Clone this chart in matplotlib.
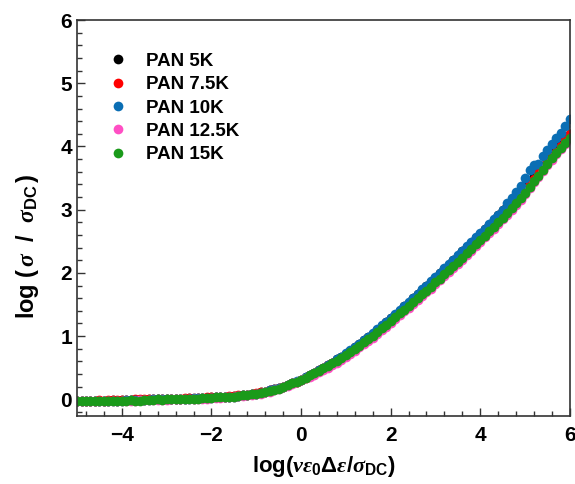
import matplotlib
matplotlib.use("Agg")
import matplotlib.pyplot as plt
from matplotlib.ticker import MultipleLocator

plt.rcParams['font.family'] = ['Liberation Sans', 'DejaVu Sans']
plt.rcParams['font.weight'] = 'bold'
plt.rcParams['mathtext.fontset'] = 'custom'
plt.rcParams['mathtext.rm'] = 'Liberation Sans:bold'
plt.rcParams['mathtext.bf'] = 'Liberation Sans:bold'
plt.rcParams['mathtext.it'] = 'Liberation Serif:italic'
plt.rcParams['mathtext.default'] = 'it'

x = [-5.0, -4.9, -4.8, -4.7, -4.6, -4.5, -4.4, -4.3, -4.2, -4.1,
     -4.0, -3.9, -3.8, -3.7, -3.6, -3.5, -3.4, -3.3, -3.2, -3.1,
     -3.0, -2.9, -2.8, -2.7, -2.6, -2.5, -2.4, -2.3, -2.2, -2.1,
     -2.0, -1.9, -1.8, -1.7, -1.6, -1.5, -1.4, -1.3, -1.2, -1.1,
     -1.0, -0.9, -0.8, -0.7, -0.6, -0.5, -0.4, -0.3, -0.2, -0.1,
     0.0, 0.1, 0.2, 0.3, 0.4, 0.5, 0.6, 0.7, 0.8, 0.9,
     1.0, 1.1, 1.2, 1.3, 1.4, 1.5, 1.6, 1.7, 1.8, 1.9,
     2.0, 2.1, 2.2, 2.3, 2.4, 2.5, 2.6, 2.7, 2.8, 2.9,
     3.0, 3.1, 3.2, 3.3, 3.4, 3.5, 3.6, 3.7, 3.8, 3.9,
     4.0, 4.1, 4.2, 4.3, 4.4, 4.5, 4.6, 4.7, 4.8, 4.9,
     5.0, 5.1, 5.2, 5.3, 5.4, 5.5, 5.6, 5.7, 5.8, 5.9, 6.0]

y_5k = [-0.02, -0.02, -0.03, -0.02, -0.02, -0.02, -0.02, -0.02, -0.01, -0.02,
        -0.01, -0.01, -0.01, -0.01, -0.01, -0.01, 0.00, 0.00, 0.00, 0.00,
        0.00, 0.01, 0.01, 0.01, 0.01, 0.02, 0.01, 0.02, 0.02, 0.02,
        0.03, 0.03, 0.03, 0.04, 0.04, 0.05, 0.05, 0.06, 0.07, 0.08,
        0.09, 0.11, 0.12, 0.14, 0.16, 0.18, 0.20, 0.23, 0.25, 0.28,
        0.31, 0.35, 0.39, 0.42, 0.46, 0.50, 0.54, 0.58, 0.63, 0.67,
        0.72, 0.77, 0.82, 0.87, 0.93, 0.98, 1.04, 1.10, 1.16, 1.22,
        1.28, 1.34, 1.40, 1.47, 1.53, 1.60, 1.66, 1.73, 1.79, 1.86,
        1.92, 1.99, 2.06, 2.13, 2.20, 2.27, 2.34, 2.41, 2.48, 2.55,
        2.62, 2.69, 2.76, 2.84, 2.91, 2.99, 3.06, 3.14, 3.21, 3.29,
        3.37, 3.45, 3.53, 3.61, 3.69, 3.78, 3.86, 3.95, 4.03, 4.12, 4.20]
y_75k = [-0.02, -0.02, -0.02, -0.02, -0.02, -0.01, -0.02, -0.01, -0.01, -0.01,
         -0.01, -0.01, -0.01, 0.00, 0.00, 0.00, 0.00, 0.00, 0.01, 0.00,
         0.01, 0.01, 0.01, 0.01, 0.02, 0.02, 0.02, 0.02, 0.02, 0.03,
         0.03, 0.03, 0.04, 0.04, 0.05, 0.05, 0.06, 0.06, 0.07, 0.09,
         0.10, 0.11, 0.12, 0.14, 0.16, 0.18, 0.20, 0.23, 0.26, 0.28,
         0.31, 0.34, 0.38, 0.42, 0.46, 0.50, 0.54, 0.58, 0.62, 0.66,
         0.71, 0.76, 0.81, 0.86, 0.92, 0.97, 1.03, 1.08, 1.14, 1.20,
         1.26, 1.32, 1.38, 1.45, 1.51, 1.57, 1.63, 1.70, 1.76, 1.83,
         1.89, 1.96, 2.02, 2.09, 2.16, 2.23, 2.30, 2.37, 2.44, 2.51,
         2.58, 2.65, 2.72, 2.80, 2.87, 2.95, 3.02, 3.10, 3.17, 3.25,
         3.33, 3.41, 3.49, 3.58, 3.66, 3.75, 3.83, 3.92, 4.01, 4.11, 4.20]
y_10k = [-0.02, -0.03, -0.02, -0.02, -0.03, -0.02, -0.02, -0.02, -0.02, -0.02,
         -0.02, -0.01, -0.01, -0.01, -0.01, -0.01, -0.01, 0.00, 0.00, 0.00,
         0.00, 0.01, 0.01, 0.01, 0.01, 0.01, 0.02, 0.02, 0.02, 0.02,
         0.02, 0.03, 0.03, 0.03, 0.04, 0.04, 0.05, 0.06, 0.07, 0.08,
         0.09, 0.10, 0.12, 0.14, 0.16, 0.18, 0.20, 0.23, 0.26, 0.29,
         0.31, 0.35, 0.39, 0.42, 0.46, 0.50, 0.54, 0.58, 0.63, 0.67,
         0.73, 0.78, 0.83, 0.88, 0.94, 0.99, 1.05, 1.11, 1.17, 1.23,
         1.29, 1.35, 1.41, 1.48, 1.54, 1.61, 1.67, 1.74, 1.80, 1.87,
         1.93, 2.00, 2.07, 2.14, 2.21, 2.28, 2.35, 2.42, 2.49, 2.56,
         2.63, 2.70, 2.77, 2.85, 2.92, 3.00, 3.10, 3.19, 3.28, 3.38,
         3.50, 3.62, 3.70, 3.72, 3.85, 3.95, 4.04, 4.13, 4.22, 4.32, 4.44]
y_125k = [-0.03, -0.03, -0.03, -0.03, -0.03, -0.03, -0.02, -0.03, -0.02, -0.02,
          -0.02, -0.02, -0.02, -0.02, -0.01, -0.01, -0.01, -0.01, -0.01, -0.01,
          -0.01, 0.00, 0.00, 0.00, 0.00, 0.00, 0.01, 0.01, 0.01, 0.01,
          0.02, 0.02, 0.02, 0.03, 0.03, 0.04, 0.05, 0.05, 0.06, 0.07,
          0.08, 0.09, 0.11, 0.12, 0.14, 0.16, 0.19, 0.21, 0.24, 0.27,
          0.30, 0.33, 0.36, 0.39, 0.43, 0.46, 0.50, 0.54, 0.58, 0.62,
          0.67, 0.72, 0.77, 0.82, 0.87, 0.92, 0.97, 1.03, 1.09, 1.15,
          1.21, 1.27, 1.33, 1.39, 1.45, 1.51, 1.57, 1.63, 1.69, 1.75,
          1.82, 1.88, 1.95, 2.01, 2.08, 2.14, 2.21, 2.28, 2.35, 2.42,
          2.49, 2.56, 2.63, 2.70, 2.77, 2.85, 2.92, 3.00, 3.08, 3.16,
          3.25, 3.34, 3.43, 3.52, 3.61, 3.70, 3.79, 3.88, 3.96, 4.04, 4.12]
y_15k = [-0.03, -0.03, -0.03, -0.02, -0.02, -0.03, -0.03, -0.02, -0.02, -0.02,
         -0.02, -0.03, -0.01, -0.02, -0.02, -0.01, -0.01, -0.01, 0.00, -0.01,
         0.00, 0.00, 0.00, 0.01, 0.01, 0.01, 0.01, 0.01, 0.02, 0.02,
         0.02, 0.03, 0.03, 0.03, 0.04, 0.04, 0.05, 0.06, 0.07, 0.08,
         0.09, 0.10, 0.12, 0.13, 0.15, 0.17, 0.20, 0.22, 0.25, 0.28,
         0.31, 0.34, 0.38, 0.41, 0.45, 0.49, 0.53, 0.57, 0.61, 0.65,
         0.70, 0.75, 0.80, 0.85, 0.90, 0.95, 1.00, 1.06, 1.12, 1.18,
         1.24, 1.30, 1.36, 1.42, 1.48, 1.54, 1.60, 1.66, 1.72, 1.78,
         1.85, 1.91, 1.98, 2.04, 2.11, 2.17, 2.24, 2.31, 2.38, 2.45,
         2.52, 2.59, 2.66, 2.73, 2.80, 2.87, 2.95, 3.02, 3.10, 3.18,
         3.27, 3.36, 3.45, 3.54, 3.63, 3.72, 3.81, 3.90, 3.98, 4.06, 4.14]

labels = ['PAN 5K', 'PAN 7.5K', 'PAN 10K', 'PAN 12.5K', 'PAN 15K']
colors = ['#000000', '#ff0000', '#0a6eb4', '#ff4fc4', '#1a9a1a']
series = [y_5k, y_75k, y_10k, y_125k, y_15k]

fig = plt.figure(figsize=(5.75, 4.84), dpi=100)
ax = fig.add_axes([0.134, 0.1405, 0.857, 0.818])

for ys, c, lab in zip(series, colors, labels):
    ax.plot(x, ys, 'o', color=c, markersize=7.0, markeredgewidth=0, label=lab, clip_on=True)

ax.set_xlim(-5, 6)
ax.set_ylim(-0.265, 6)
ax.xaxis.set_major_locator(MultipleLocator(2))
ax.xaxis.set_minor_locator(MultipleLocator(0.4))
ax.yaxis.set_major_locator(MultipleLocator(1))
ax.yaxis.set_minor_locator(MultipleLocator(0.2))
ax.tick_params(which='both', direction='in', top=False, right=False, labelsize=15, width=1.0, color='#333333')
ax.tick_params(which='major', length=6)
ax.tick_params(which='minor', length=3.5)
for lbl in ax.get_xticklabels() + ax.get_yticklabels():
    lbl.set_fontweight('bold')
ax.tick_params(axis='x', pad=7)
for s in ax.spines.values():
    s.set_linewidth(1.2)
    s.set_color('#333333')

ax.set_xlabel(r'log($\nu\varepsilon_{\mathbf{0}}\mathit{\Delta}\varepsilon/\sigma_{\mathbf{DC}}$)', fontsize=16, fontweight='bold', labelpad=7)
ax.set_ylabel(r'log $(\,\sigma\ \ /\ \ \sigma_{\mathbf{DC}}\,)$', fontsize=17, fontweight='bold')
ax.yaxis.set_label_coords(-0.073, 0.43)

leg = ax.legend(loc='upper left', bbox_to_anchor=(0.03, 0.96), frameon=False,
                handletextpad=1.0, labelspacing=0.33, handlelength=1.0,
                prop={'weight': 'bold', 'size': 13.5})

fig.savefig('out.png', dpi=100)
